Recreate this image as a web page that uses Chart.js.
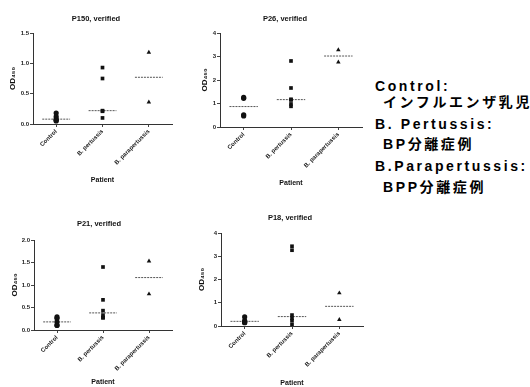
<!DOCTYPE html>
<html><head><meta charset="utf-8">
<script src="https://cdn.jsdelivr.net/npm/chart.js@4.4.0/dist/chart.umd.min.js"></script>
<style>
html,body{margin:0;padding:0;background:#fff;width:530px;height:387px;overflow:hidden;position:relative}
canvas{position:absolute}
.note{position:absolute;z-index:5;font-family:"Liberation Sans","Noto Sans CJK JP",sans-serif;font-weight:bold;font-size:14px;letter-spacing:2.6px;color:#000;white-space:nowrap;line-height:16px}
</style></head><body>
<canvas id="c1" width="190" height="190" style="left:0px;top:0px"></canvas>
<canvas id="c2" width="180" height="192" style="left:190px;top:0px"></canvas>
<canvas id="c3" width="190" height="187" style="left:0px;top:200px"></canvas>
<canvas id="c4" width="195" height="187" style="left:190px;top:200px"></canvas>
<div class="note" style="left:375px;top:78px">Control:</div>
<div class="note" style="left:383px;top:94px">インフルエンザ乳児</div>
<div class="note" style="left:375px;top:116px">B. Pertussis:</div>
<div class="note" style="left:383px;top:136px">BP分離症例</div>
<div class="note" style="left:375px;top:158px">B.Parapertussis:</div>
<div class="note" style="left:383px;top:179px">BPP分離症例</div>
<script>
// ---- data ----
const categories = ['Control', 'B. pertussis', 'B. parapertussis'];

const p150Control = [0.18, 0.12, 0.08, 0.06, 0.05];
const p150Pertussis = [0.93, 0.75, 0.22, 0.21, 0.10];
const p150Parapertussis = [1.18, 0.36];
const p150Ticks = [0, 0.5, 1.0, 1.5];

const p26Control = [1.26, 1.22, 0.52, 0.47];
const p26Pertussis = [2.81, 1.66, 1.18, 1.15, 0.98, 0.88];
const p26Parapertussis = [3.28, 2.76];
const p26Ticks = [0, 1, 2, 3, 4];

const p21Control = [0.29, 0.26, 0.18, 0.11, 0.10];
const p21Pertussis = [1.40, 0.67, 0.43, 0.33, 0.28, 0.27];
const p21Parapertussis = [1.53, 0.80];
const p21Ticks = [0, 0.5, 1.0, 1.5, 2.0];

const p18Control = [0.39, 0.22, 0.20, 0.15, 0.14];
const p18Pertussis = [3.43, 3.26, 0.47, 0.34, 0.22, 0.05];
const p18Parapertussis = [1.42, 0.27];
const p18Ticks = [0, 1, 2, 3, 4];

const titles = ['P150, verified', 'P26, verified', 'P21, verified', 'P18, verified'];
const yTitle = 'OD₄₅₀';
const xTitle = 'Patient';

// ---- drawing ----
const F = "'Liberation Sans', Arial, sans-serif";
const styles = ['circle', 'rect', 'triangle'];
function median(a) {
  const s = [...a].sort((p, q) => p - q), n = s.length;
  return n % 2 ? s[(n - 1) / 2] : (s[n / 2 - 1] + s[n / 2]) / 2;
}

function makeChart(id, title, groups, ticks, decimals, g) {
  const ds = [];
  groups.forEach((vals, i) => {
    ds.push({
      data: vals.map(v => ({ x: i, y: v })),
      pointStyle: styles[i], pointRadius: 2.6, pointBorderWidth: 0,
      backgroundColor: '#111', borderColor: '#111'
    });
  });
  groups.forEach((vals, i) => {
    const m = median(vals);
    ds.push({
      data: [{ x: i - 0.3, y: m }, { x: i + 0.3, y: m }],
      showLine: true, pointRadius: 0, borderColor: '#555', borderWidth: 1, borderDash: [2, 1]
    });
  });
  const tickFont = { family: F, size: 6, weight: 'bold' };
  new Chart(document.getElementById(id), {
    type: 'scatter',
    data: { datasets: ds },
    options: {
      responsive: false, animation: false, events: [],
      layout: { padding: { left: g.pl, right: 0, top: g.pt, bottom: 0 } },
      plugins: {
        legend: { display: false }, tooltip: { enabled: false },
        title: { display: true, text: title, color: '#111', font: { family: F, size: 7.5, weight: 'bold' }, padding: { top: g.tpt, bottom: g.tpb } }
      },
      scales: {
        x: {
          type: 'linear', min: -0.5, max: 2.5,
          afterBuildTicks: s => { s.ticks = categories.map((c, i) => ({ value: i })); },
          ticks: { callback: v => categories[v], maxRotation: 45, minRotation: 45, autoSkip: false, font: tickFont, color: '#222', padding: 1 },
          grid: { display: true, drawOnChartArea: false, tickLength: 3, color: '#444' },
          border: { color: '#333', dash: [1, 1] },
          title: { display: true, text: xTitle, color: '#111', font: { family: F, size: 7, weight: 'bold' }, padding: { top: 0, bottom: g.xpb } },
          afterFit: s => { s.height = g.xh; }
        },
        y: {
          min: 0, max: ticks[ticks.length - 1],
          afterBuildTicks: s => { s.ticks = ticks.map(v => ({ value: v })); },
          ticks: { callback: v => Number(v).toFixed(decimals), font: tickFont, color: '#222', padding: 1 },
          grid: { display: true, drawOnChartArea: false, tickLength: 3, color: '#444' },
          border: { color: '#333', dash: [1, 1] },
          title: { display: true, text: yTitle, color: '#111', font: { family: F, size: 8, weight: 'bold' }, padding: { top: g.ytp, bottom: 0 } },
          afterFit: s => { s.width = g.wl; }
        },
        yR: {
          position: 'right', display: true,
          ticks: { display: false }, grid: { display: false }, border: { display: false },
          afterFit: s => { s.width = g.wr; }
        }
      }
    }
  });
}

makeChart('c1', titles[0], [p150Control, p150Pertussis, p150Parapertussis], p150Ticks, 1,
  { pl: 2, pt: 10, tpt: 4.5, tpb: 9.5, wl: 31, wr: 18, xh: 66, xpb: 5.8, ytp: 6.2 });
makeChart('c2', titles[1], [p26Control, p26Pertussis, p26Parapertussis], p26Ticks, 0,
  { pl: 10, pt: 10, tpt: 4.5, tpb: 9.5, wl: 20, wr: 8, xh: 65, xpb: 4.8, ytp: 0.3 });
makeChart('c3', titles[2], [p21Control, p21Pertussis, p21Parapertussis], p21Ticks, 1,
  { pl: 8, pt: 10, tpt: 9.5, tpb: 11.5, wl: 26, wr: 18, xh: 57, xpb: 0.8, ytp: 2.2 });
makeChart('c4', titles[3], [p18Control, p18Pertussis, p18Parapertussis], p18Ticks, 0,
  { pl: 5, pt: 9, tpt: 4.5, tpb: 10.5, wl: 26, wr: 22, xh: 61, xpb: 0, ytp: 2.2 });
</script>
</body></html>
